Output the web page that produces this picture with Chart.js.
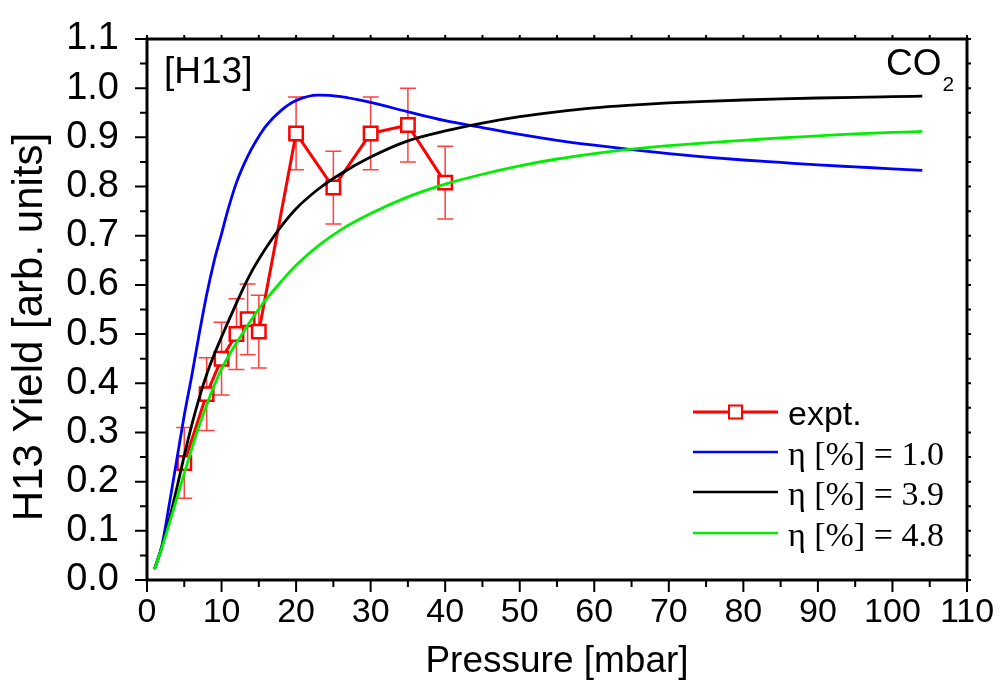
<!DOCTYPE html>
<html><head><meta charset="utf-8">
<script src="https://cdn.jsdelivr.net/npm/chart.js@4.4.1/dist/chart.umd.min.js"></script>
<style>html,body{margin:0;padding:0;background:#fff;overflow:hidden}</style>
</head><body>
<canvas id="c" width="1003" height="684"></canvas>
<script>
// ---- data ----
const pressureExpt = [5, 8, 10, 12, 13.5, 15, 20, 25, 30, 35, 40];
const yieldExpt    = [0.238, 0.378, 0.450, 0.500, 0.530, 0.505, 0.908, 0.798, 0.908, 0.925, 0.808];
const yieldErr     = [0.072, 0.074, 0.074, 0.072, 0.072, 0.074, 0.074, 0.074, 0.074, 0.075, 0.074];

const pressureModel = [1, 2, 3, 4, 5, 6, 7, 8, 9, 10, 11, 12, 13, 14, 15, 16, 18, 20, 23, 26, 30, 35, 40, 45, 50, 55, 60, 65, 70, 75, 80, 85, 90, 95, 100, 104];
const eta10 = [0.022, 0.070, 0.155, 0.245, 0.335, 0.415, 0.500, 0.580, 0.648, 0.704, 0.760, 0.808, 0.845, 0.876, 0.902, 0.924, 0.955, 0.975, 0.986, 0.983, 0.971, 0.952, 0.934, 0.920, 0.906, 0.894, 0.884, 0.875, 0.867, 0.860, 0.854, 0.849, 0.844, 0.840, 0.836, 0.833];
const eta39 = [0.022, 0.068, 0.123, 0.187, 0.253, 0.315, 0.370, 0.418, 0.458, 0.494, 0.529, 0.563, 0.596, 0.626, 0.652, 0.676, 0.719, 0.755, 0.795, 0.826, 0.860, 0.893, 0.913, 0.929, 0.942, 0.952, 0.960, 0.9655, 0.970, 0.9733, 0.9760, 0.9782, 0.9800, 0.9815, 0.9828, 0.9838];
const eta48 = [0.022, 0.066, 0.115, 0.166, 0.217, 0.267, 0.314, 0.356, 0.395, 0.429, 0.457, 0.482, 0.506, 0.529, 0.551, 0.571, 0.607, 0.640, 0.680, 0.712, 0.745, 0.779, 0.805, 0.825, 0.842, 0.856, 0.867, 0.876, 0.883, 0.889, 0.894, 0.899, 0.903, 0.907, 0.910, 0.912];

const seriesLabels = ['expt.', 'η [%] = 1.0', 'η [%] = 3.9', 'η [%] = 4.8'];

const xTickValues = [0, 10, 20, 30, 40, 50, 60, 70, 80, 90, 100, 110];
const xTickLabels = ['0', '10', '20', '30', '40', '50', '60', '70', '80', '90', '100', '110'];
const xMinorTicks = [5, 15, 25, 35, 45, 55, 65, 75, 85, 95, 105];
const yTickValues = [0, 0.1, 0.2, 0.3, 0.4, 0.5, 0.6, 0.7, 0.8, 0.9, 1.0, 1.1];
const yTickLabels = ['0.0', '0.1', '0.2', '0.3', '0.4', '0.5', '0.6', '0.7', '0.8', '0.9', '1.0', '1.1'];
const yMinorTicks = [0.05, 0.15, 0.25, 0.35, 0.45, 0.55, 0.65, 0.75, 0.85, 0.95, 1.05];

const SANS = "'Liberation Sans', Arial, sans-serif";
const SERIF = "'Liberation Serif', 'Times New Roman', serif";

const RED = '#ff0000', BLUE = '#0000ff', BLACK = '#000000', GREEN = '#00ee00';

const errorBars = {
  id: 'errorBars',
  beforeDatasetsDraw(chart) {
    const {ctx, scales: {x, y}} = chart;
    ctx.save();
    ctx.strokeStyle = '#ff4040';
    ctx.lineWidth = 1.5;
    pressureExpt.forEach((p, i) => {
      const px = x.getPixelForValue(p);
      const top = y.getPixelForValue(yieldExpt[i] + yieldErr[i]);
      const bot = y.getPixelForValue(yieldExpt[i] - yieldErr[i]);
      ctx.beginPath();
      ctx.moveTo(px, top); ctx.lineTo(px, bot);
      ctx.moveTo(px - 8, top); ctx.lineTo(px + 8, top);
      ctx.moveTo(px - 8, bot); ctx.lineTo(px + 8, bot);
      ctx.stroke();
    });
    ctx.restore();
  }
};

const frame = {
  id: 'frame',
  afterDraw(chart) {
    const {ctx, chartArea: {left, right, top, bottom}, scales: {x, y}} = chart;
    ctx.save();
    ctx.strokeStyle = '#000';
    ctx.lineWidth = 2;
    ctx.beginPath();
    xTickValues.forEach(v => { const px = x.getPixelForValue(v); ctx.moveTo(px, bottom); ctx.lineTo(px, bottom + 12); ctx.moveTo(px, top); ctx.lineTo(px, top - 4); });
    xMinorTicks.forEach(v => { const px = x.getPixelForValue(v); ctx.moveTo(px, bottom); ctx.lineTo(px, bottom + 7); ctx.moveTo(px, top); ctx.lineTo(px, top - 4); });
    yTickValues.forEach(v => { const py = y.getPixelForValue(v); ctx.moveTo(left, py); ctx.lineTo(left - 12, py); ctx.moveTo(right, py); ctx.lineTo(right + 4, py); });
    yMinorTicks.forEach(v => { const py = y.getPixelForValue(v); ctx.moveTo(left, py); ctx.lineTo(left - 7, py); ctx.moveTo(right, py); ctx.lineTo(right + 4, py); });
    ctx.stroke();
    ctx.lineWidth = 3;
    ctx.strokeRect(left, top, right - left, bottom - top);

    // annotations
    ctx.fillStyle = '#000';
    ctx.textBaseline = 'alphabetic';
    ctx.textAlign = 'left';
    ctx.font = '37px ' + SANS;
    ctx.fillText('[H13]', 164, 83);
    ctx.fillText('CO', 886, 75);
    const coW = ctx.measureText('CO').width;
    ctx.font = '21px ' + SANS;
    ctx.fillText('2', 886 + coW + 1, 91);

    // legend
    const rows = [412, 452, 492, 533];
    chart.data.datasets.forEach((ds, i) => {
      const ly = rows[i];
      ctx.strokeStyle = ds.borderColor;
      ctx.lineWidth = i === 0 ? 3 : 2.6;
      ctx.beginPath(); ctx.moveTo(693, ly); ctx.lineTo(778, ly); ctx.stroke();
      if (i === 0) {
        ctx.fillStyle = '#fff';
        ctx.fillRect(729, ly - 6.5, 13, 13);
        ctx.lineWidth = 2;
        ctx.strokeRect(729, ly - 6.5, 13, 13);
      }
      ctx.fillStyle = '#000';
      ctx.font = (i === 0 ? '34px ' + SANS : '34px ' + SERIF);
      ctx.fillText(ds.label, 788, ly + 13);
    });
    ctx.restore();
  }
};

new Chart(document.getElementById('c'), {
  type: 'line',
  data: {
    datasets: [
      {
        label: seriesLabels[0],
        data: pressureExpt.map((p, i) => ({x: p, y: yieldExpt[i]})),
        borderColor: RED, backgroundColor: '#ffffff',
        borderWidth: 3, pointStyle: 'rect', pointRadius: 9.5,
        pointBorderWidth: 2.5, pointBorderColor: RED, pointBackgroundColor: '#ffffff',
        tension: 0, order: 4
      },
      {
        label: seriesLabels[1],
        data: pressureModel.map((p, i) => ({x: p, y: eta10[i]})),
        borderColor: BLUE, borderWidth: 2.8, pointRadius: 0,
        cubicInterpolationMode: 'monotone', order: 3
      },
      {
        label: seriesLabels[2],
        data: pressureModel.map((p, i) => ({x: p, y: eta39[i]})),
        borderColor: BLACK, borderWidth: 2.8, pointRadius: 0,
        cubicInterpolationMode: 'monotone', order: 2
      },
      {
        label: seriesLabels[3],
        data: pressureModel.map((p, i) => ({x: p, y: eta48[i]})),
        borderColor: GREEN, borderWidth: 2.8, pointRadius: 0,
        cubicInterpolationMode: 'monotone', order: 1
      }
    ]
  },
  options: {
    responsive: false,
    animation: false,
    devicePixelRatio: 1,
    layout: {padding: {left: 0, right: 36, top: 33, bottom: 0}},
    plugins: {legend: {display: false}, tooltip: {enabled: false}},
    scales: {
      x: {
        type: 'linear', min: 0, max: 110,
        afterBuildTicks: s => { s.ticks = xTickValues.map(v => ({value: v})); },
        afterFit: s => { s.height = 104; },
        grid: {display: false}, border: {display: false},
        ticks: {
          padding: 8, color: '#000', maxRotation: 0, autoSkip: false,
          font: {family: SANS, size: 34, lineHeight: 1},
          callback: (v, i) => xTickLabels[i]
        },
        title: {display: true, text: 'Pressure [mbar]', color: '#000',
          font: {family: SANS, size: 37, lineHeight: 1}, padding: {top: 0, bottom: 4}}
      },
      y: {
        type: 'linear', min: 0, max: 1.1,
        afterBuildTicks: s => { s.ticks = yTickValues.map(v => ({value: v})); },
        afterFit: s => { s.width = 147; },
        grid: {display: false}, border: {display: false},
        ticks: {
          padding: 20, color: '#000', autoSkip: false,
          font: {family: SANS, size: 38, lineHeight: 1},
          callback: (v, i) => yTickLabels[i]
        },
        title: {display: true, text: 'H13 Yield [arb. units]   ', color: '#000',
          font: {family: SANS, size: 42, lineHeight: 1}, padding: {top: 9, bottom: 0}}
      }
    }
  },
  plugins: [errorBars, frame]
});
</script>
</body></html>
